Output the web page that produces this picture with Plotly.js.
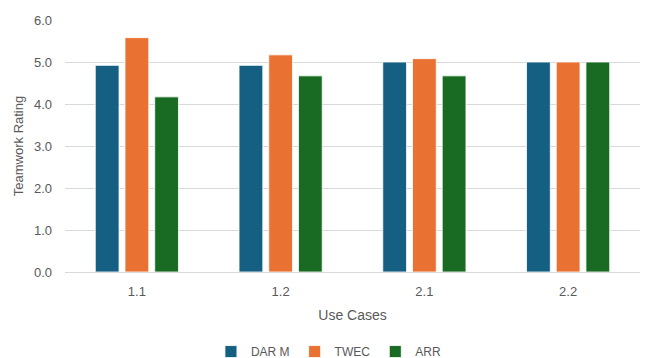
<!DOCTYPE html>
<html>
<head>
<meta charset="utf-8">
<script src="https://cdn.plot.ly/plotly-3.0.1.min.js"></script>
<style>html,body{margin:0;padding:0;background:#fff;}#chart{width:645px;height:358px;}</style>
</head>
<body>
<div id="chart"></div>
<script>
var categories = ["1.1", "1.2", "2.1", "2.2"];
var seriesNames = ["DAR M", "TWEC", "ARR"];
var darM = [4.92, 4.92, 5.0, 5.0];
var twec = [5.58, 5.17, 5.08, 5.0];
var arr = [4.17, 4.67, 4.67, 5.0];
var colors = ["#156082", "#E97132", "#196B24"];
var values = [darM, twec, arr];

var traces = values.map(function (v, i) {
  return {
    type: "bar",
    name: seriesNames[i],
    x: categories,
    y: v,
    marker: { color: colors[i], line: { color: "rgba(255,255,255,0.8)", width: 1 } },
    hoverinfo: "x+y+name"
  };
});

var layout = {
  width: 645,
  height: 358,
  margin: { l: 65, r: 5, t: 20, b: 86, autoexpand: false },
  paper_bgcolor: "#ffffff",
  plot_bgcolor: "#ffffff",
  font: { family: "Liberation Sans, Arial, sans-serif", color: "#595959", size: 12 },
  barmode: "group",
  bargap: 0.38,
  bargroupgap: 0.2,
  showlegend: true,
  legend: {
    orientation: "h",
    x: 0.51, xanchor: "center", xref: "container",
    y: 0.018, yanchor: "middle", yref: "container",
    font: { size: 12, color: "#595959" },
    itemwidth: 30,
    tracegroupgap: 0
  },
  xaxis: {
    type: "category",
    showgrid: false,
    showline: false,
    zeroline: false,
    ticks: "",
    ticklabelstandoff: 10,
    tickfont: { size: 13, color: "#595959" },
    title: { text: "Use Cases", font: { size: 14, color: "#595959" }, standoff: 12 }
  },
  yaxis: {
    range: [0, 6],
    dtick: 1,
    tickformat: ".1f",
    showgrid: true,
    gridcolor: "#d9d9d9",
    gridwidth: 1,
    zeroline: true,
    zerolinecolor: "#d9d9d9",
    zerolinewidth: 1,
    showline: false,
    ticks: "",
    ticklabelstandoff: 12,
    tickfont: { size: 13, color: "#595959" },
    title: { text: "Teamwork Rating", font: { size: 13, color: "#595959" }, standoff: 7 }
  }
};

Plotly.newPlot("chart", traces, layout, { displayModeBar: false, staticPlot: true });
</script>
</body>
</html>
